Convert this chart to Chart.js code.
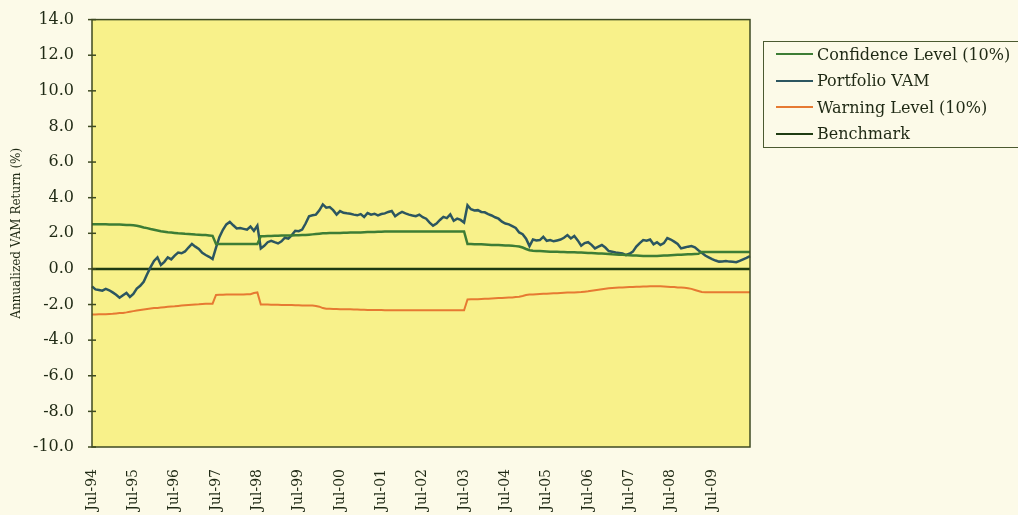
<!DOCTYPE html>
<html>
<head>
<meta charset="utf-8">
<script src="https://cdn.jsdelivr.net/npm/chart.js@4.4.1/dist/chart.umd.min.js"></script>
<style>
html, body { margin: 0; padding: 0; background: #fcfae8; overflow: hidden; }
#wrap { position: relative; width: 1018px; height: 515px; }
#legend { position: absolute; left: 763px; top: 41px; width: 280px; height: 107px; border: 1px solid #4b5a30; box-sizing: border-box; font-family: 'DejaVu Serif', serif; font-size: 16px; color: #1f2914; }
.item { position: absolute; left: 12px; height: 20px; display: flex; align-items: center; white-space: nowrap; }
.swatch { width: 37px; height: 0; border-top: 2px solid; margin-right: 4px; }
</style>
</head>
<body>
<div id="wrap">
  <canvas id="vamChart" width="1018" height="515"></canvas>
  <div id="legend"></div>
</div>
<script>
// x axis: one category per month, Jul-94 .. Jun-10; only the July ones get a label
const tickLabels = ['Jul-94', 'Jul-95', 'Jul-96', 'Jul-97', 'Jul-98', 'Jul-99', 'Jul-00', 'Jul-01',
    'Jul-02', 'Jul-03', 'Jul-04', 'Jul-05', 'Jul-06', 'Jul-07', 'Jul-08', 'Jul-09'];
const monthNames = ['Jul', 'Aug', 'Sep', 'Oct', 'Nov', 'Dec', 'Jan', 'Feb', 'Mar', 'Apr', 'May', 'Jun'];

const confidenceLevel = [
    2.51, 2.51, 2.51, 2.51, 2.51, 2.50, 2.50, 2.50, 2.49, 2.48, 2.47, 2.46,
    2.45, 2.42, 2.38, 2.33, 2.29, 2.24, 2.20, 2.16, 2.12, 2.09, 2.06, 2.04,
    2.02, 2.00, 1.99, 1.97, 1.96, 1.95, 1.93, 1.92, 1.91, 1.90, 1.88, 1.86,
    1.40, 1.40, 1.40, 1.40, 1.40, 1.40, 1.40, 1.40, 1.40, 1.40, 1.40, 1.40,
    1.40, 1.84, 1.84, 1.85, 1.85, 1.86, 1.86, 1.87, 1.87, 1.88, 1.88, 1.89,
    1.89, 1.90, 1.90, 1.92, 1.94, 1.96, 1.98, 2.00, 2.00, 2.01, 2.01, 2.02,
    2.02, 2.03, 2.03, 2.04, 2.04, 2.05, 2.05, 2.06, 2.07, 2.08, 2.08, 2.09,
    2.09, 2.10, 2.10, 2.10, 2.10, 2.10, 2.10, 2.10, 2.10, 2.10, 2.10, 2.10,
    2.10, 2.10, 2.10, 2.10, 2.10, 2.10, 2.10, 2.10, 2.10, 2.10, 2.10, 2.10,
    2.10, 1.40, 1.40, 1.39, 1.38, 1.38, 1.37, 1.36, 1.35, 1.35, 1.34, 1.33,
    1.32, 1.31, 1.30, 1.28, 1.26, 1.20, 1.12, 1.05, 1.02, 1.01, 1.00, 0.99,
    0.98, 0.97, 0.97, 0.96, 0.95, 0.95, 0.94, 0.93, 0.93, 0.92, 0.92, 0.91,
    0.90, 0.89, 0.88, 0.87, 0.86, 0.85, 0.84, 0.82, 0.81, 0.80, 0.79, 0.78,
    0.77, 0.76, 0.75, 0.74, 0.73, 0.72, 0.72, 0.72, 0.73, 0.74, 0.75, 0.76,
    0.77, 0.78, 0.79, 0.80, 0.81, 0.82, 0.83, 0.84, 0.85, 0.95, 0.95, 0.95,
    0.95, 0.95, 0.95, 0.95, 0.95, 0.95, 0.95, 0.95, 0.95, 0.95, 0.95, 0.95
];

const portfolioVam = [
    -0.98, -1.15, -1.18, -1.22, -1.12, -1.20, -1.32, -1.45, -1.62, -1.48, -1.35, -1.57,
    -1.40, -1.10, -0.95, -0.72, -0.30, 0.10, 0.45, 0.65, 0.22, 0.40, 0.65, 0.54,
    0.75, 0.92, 0.88, 0.98, 1.20, 1.40, 1.25, 1.12, 0.90, 0.78, 0.68, 0.55,
    1.20, 1.80, 2.20, 2.50, 2.64, 2.45, 2.27, 2.30, 2.25, 2.20, 2.38, 2.14,
    2.43, 1.15, 1.30, 1.50, 1.58, 1.50, 1.43, 1.55, 1.75, 1.70, 1.90, 2.14,
    2.12, 2.21, 2.55, 2.96, 3.01, 3.05, 3.29, 3.62, 3.44, 3.47, 3.30, 3.05,
    3.25, 3.15, 3.12, 3.10, 3.05, 3.01, 3.08, 2.92, 3.14, 3.05, 3.10, 3.01,
    3.08, 3.12, 3.20, 3.25, 2.96, 3.10, 3.20, 3.12, 3.05, 3.00, 2.96, 3.05,
    2.90, 2.82, 2.60, 2.43, 2.55, 2.75, 2.92, 2.85, 3.06, 2.70, 2.82, 2.75,
    2.60, 3.57, 3.35, 3.28, 3.30, 3.20, 3.18, 3.08, 3.00, 2.90, 2.82, 2.65,
    2.55, 2.50, 2.40, 2.30, 2.05, 1.95, 1.70, 1.28, 1.65, 1.60, 1.62, 1.80,
    1.58, 1.62, 1.55, 1.60, 1.65, 1.75, 1.90, 1.71, 1.85, 1.60, 1.30, 1.45,
    1.50, 1.35, 1.15, 1.25, 1.34, 1.20, 1.00, 0.97, 0.92, 0.90, 0.87, 0.78,
    0.85, 0.97, 1.25, 1.45, 1.62, 1.58, 1.65, 1.38, 1.50, 1.34, 1.45, 1.73,
    1.65, 1.53, 1.40, 1.15, 1.20, 1.25, 1.28, 1.21, 1.05, 0.91, 0.75, 0.65,
    0.55, 0.47, 0.41, 0.42, 0.45, 0.41, 0.40, 0.38, 0.45, 0.54, 0.62, 0.72
];

const warningLevel = [
    -2.56, -2.56, -2.55, -2.55, -2.54, -2.53, -2.52, -2.50, -2.48, -2.47, -2.44, -2.40,
    -2.37, -2.34, -2.31, -2.28, -2.25, -2.22, -2.20, -2.19, -2.17, -2.15, -2.13, -2.11,
    -2.10, -2.08, -2.06, -2.04, -2.02, -2.01, -2.00, -1.99, -1.97, -1.96, -1.95, -1.95,
    -1.46, -1.45, -1.45, -1.44, -1.44, -1.44, -1.43, -1.43, -1.43, -1.42, -1.42, -1.35,
    -1.32, -2.00, -2.00, -2.00, -2.01, -2.01, -2.01, -2.02, -2.02, -2.03, -2.03, -2.04,
    -2.04, -2.05, -2.05, -2.06, -2.06, -2.08, -2.12, -2.20, -2.24, -2.24, -2.25, -2.25,
    -2.26, -2.26, -2.27, -2.27, -2.28, -2.28, -2.29, -2.29, -2.30, -2.30, -2.31, -2.31,
    -2.31, -2.32, -2.32, -2.32, -2.32, -2.32, -2.32, -2.32, -2.32, -2.32, -2.32, -2.32,
    -2.32, -2.32, -2.32, -2.32, -2.32, -2.32, -2.32, -2.32, -2.32, -2.32, -2.32, -2.32,
    -2.32, -1.72, -1.71, -1.70, -1.70, -1.69, -1.68, -1.67, -1.66, -1.65, -1.64, -1.63,
    -1.62, -1.61, -1.60, -1.58, -1.56, -1.52, -1.47, -1.44, -1.43, -1.42, -1.41, -1.40,
    -1.39, -1.38, -1.37, -1.36, -1.35, -1.34, -1.33, -1.33, -1.32, -1.31, -1.30, -1.28,
    -1.26, -1.23, -1.20, -1.17, -1.14, -1.11, -1.09, -1.07, -1.06, -1.05, -1.04, -1.03,
    -1.02, -1.01, -1.00, -1.00, -0.99, -0.99, -0.98, -0.98, -0.98, -0.98, -0.99, -1.00,
    -1.01, -1.02, -1.04, -1.05, -1.06, -1.08, -1.12, -1.18, -1.24, -1.30, -1.31, -1.31,
    -1.31, -1.31, -1.31, -1.31, -1.31, -1.31, -1.31, -1.31, -1.31, -1.31, -1.31, -1.31
];

const benchmark = portfolioVam.map(() => 0);

// monthly category labels, one per data point
const labels = [];
for (let y = 0; y < tickLabels.length + 1; y++) {
    for (let m = 0; m < 12; m++) {
        if (labels.length < portfolioVam.length) {
            const yr = String((94 + y + (m >= 6 ? 1 : 0)) % 100).padStart(2, '0');
            labels.push(monthNames[m] + '-' + yr);
        }
    }
}

const textColor = '#1f2914';
const axisColor = '#3e4a22';

// yellow plot area, frame and the small crossing ticks on the y axis
const plotFrame = {
    id: 'plotFrame',
    beforeDatasetsDraw(chart) {
        const { ctx, chartArea: a } = chart;
        ctx.save();
        ctx.fillStyle = '#f8f18a';
        ctx.fillRect(a.left, a.top, a.right - a.left, a.bottom - a.top);
        ctx.restore();
    },
    afterDraw(chart) {
        const { ctx, chartArea: a, scales } = chart;
        ctx.save();
        ctx.strokeStyle = axisColor;
        ctx.lineWidth = 1.5;
        ctx.strokeRect(a.left, a.top, a.right - a.left, a.bottom - a.top);
        scales.y.ticks.forEach(t => {
            const py = scales.y.getPixelForValue(t.value);
            ctx.beginPath();
            ctx.moveTo(a.left - 4, py);
            ctx.lineTo(a.left + 4, py);
            ctx.stroke();
        });
        ctx.restore();
    }
};

const ctx = document.getElementById('vamChart').getContext('2d');
const vamChart = new Chart(ctx, {
    type: 'line',
    data: {
        labels: labels,
        datasets: [{
            label: 'Confidence Level (10%)',
            data: confidenceLevel,
            borderColor: '#3d7d35',
            borderWidth: 2.5
        }, {
            label: 'Portfolio VAM',
            data: portfolioVam,
            borderColor: '#2c5660',
            borderWidth: 2.5
        }, {
            label: 'Warning Level (10%)',
            data: warningLevel,
            borderColor: '#e67a32',
            borderWidth: 2
        }, {
            label: 'Benchmark',
            data: benchmark,
            borderColor: '#1f3c12',
            borderWidth: 2.5
        }]
    },
    options: {
        responsive: false,
        animation: false,
        layout: { padding: { top: 16, right: 268, left: 0, bottom: 0 } },
        elements: { point: { radius: 0 }, line: { tension: 0 } },
        plugins: {
            legend: { display: false },
            tooltip: { enabled: false }
        },
        scales: {
            x: {
                grid: { display: false },
                border: { display: false },
                afterFit: s => { s.height = 68; },
                ticks: {
                    autoSkip: false,
                    minRotation: 90,
                    maxRotation: 90,
                    padding: 14,
                    color: textColor,
                    font: { family: 'DejaVu Serif', size: 14 },
                    callback: function (v, i) {
                        return i % 12 === 0 ? tickLabels[i / 12] : '';
                    }
                }
            },
            y: {
                min: -10,
                max: 14,
                grid: { display: false },
                border: { display: false },
                afterFit: s => { s.width = 92; },
                ticks: {
                    stepSize: 2,
                    padding: 10,
                    color: textColor,
                    font: { family: 'DejaVu Serif', size: 16 },
                    callback: v => v.toFixed(1)
                },
                title: {
                    display: true,
                    text: 'Annualized VAM Return (%)',
                    color: textColor,
                    font: { family: 'DejaVu Serif', size: 12 },
                    padding: { top: 10, bottom: 0 }
                }
            }
        }
    },
    plugins: [plotFrame]
});

// legend box built from the datasets
const legendEl = document.getElementById('legend');
vamChart.data.datasets.forEach((ds, i) => {
    const item = document.createElement('div');
    item.className = 'item';
    item.style.top = (2 + i * 26.5) + 'px';
    const sw = document.createElement('span');
    sw.className = 'swatch';
    sw.style.borderTopColor = ds.borderColor;
    const tx = document.createElement('span');
    tx.textContent = ds.label;
    item.appendChild(sw);
    item.appendChild(tx);
    legendEl.appendChild(item);
});
</script>
</body>
</html>
